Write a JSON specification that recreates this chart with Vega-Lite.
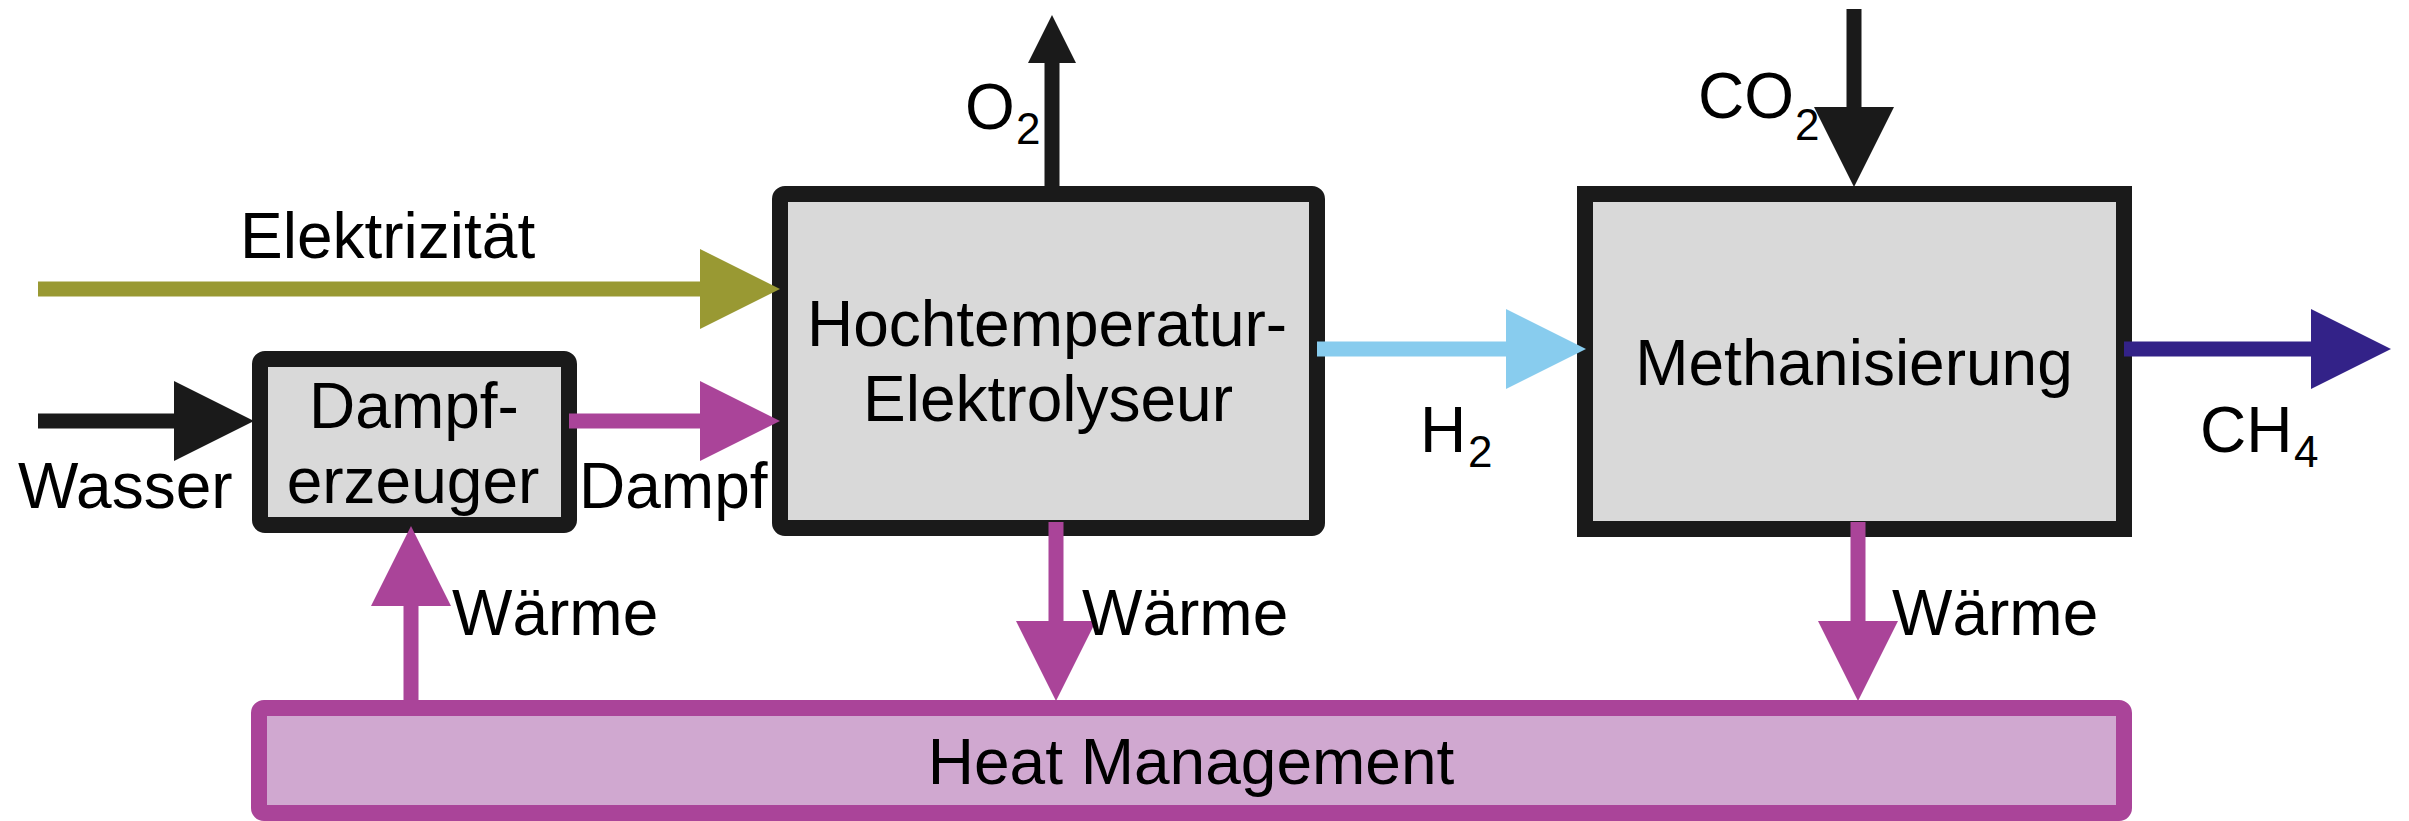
{
  "$schema": "https://vega.github.io/schema/vega-lite/v6.json",
  "width": 2409,
  "height": 821,
  "autosize": {"type": "fit", "contains": "padding"},
  "padding": 0,
  "background": "white",
  "config": {"view": {"stroke": null}},
  "datasets": {
    "boxes": [
      {"name": "Dampferzeuger", "kind": "process", "x1": 260, "x2": 569, "y1": 359, "y2": 525},
      {"name": "Hochtemperatur-Elektrolyseur", "kind": "process", "x1": 780, "x2": 1317, "y1": 194, "y2": 528},
      {"name": "Methanisierung", "kind": "process", "x1": 1585, "x2": 2124, "y1": 194, "y2": 529},
      {"name": "Heat Management", "kind": "heat", "x1": 259, "x2": 2124, "y1": 708, "y2": 813}
    ],
    "shafts": [
      {"stream": "Elektrizität", "x1": 38, "y1": 289, "x2": 702, "y2": 289},
      {"stream": "Wasser", "x1": 38, "y1": 421, "x2": 180, "y2": 421},
      {"stream": "Dampf", "x1": 569, "y1": 421, "x2": 702, "y2": 421},
      {"stream": "O2", "x1": 1052, "y1": 188, "x2": 1052, "y2": 60},
      {"stream": "H2", "x1": 1317, "y1": 349, "x2": 1508, "y2": 349},
      {"stream": "CO2", "x1": 1854, "y1": 9, "x2": 1854, "y2": 112},
      {"stream": "CH4", "x1": 2124, "y1": 349, "x2": 2313, "y2": 349},
      {"stream": "Wärme", "x1": 411, "y1": 708, "x2": 411, "y2": 604},
      {"stream": "Wärme", "x1": 1056, "y1": 522, "x2": 1056, "y2": 626},
      {"stream": "Wärme", "x1": 1858, "y1": 522, "x2": 1858, "y2": 626}
    ],
    "heads": [
      {"stream": "Elektrizität", "dir": "right", "x": 780, "y": 289},
      {"stream": "Wasser", "dir": "right", "x": 254, "y": 421},
      {"stream": "Dampf", "dir": "right", "x": 780, "y": 421},
      {"stream": "O2", "dir": "up", "x": 1052, "y": 15},
      {"stream": "H2", "dir": "right", "x": 1586, "y": 349},
      {"stream": "CO2", "dir": "down", "x": 1854, "y": 187},
      {"stream": "CH4", "dir": "right", "x": 2391, "y": 349},
      {"stream": "Wärme", "dir": "up", "x": 411, "y": 526},
      {"stream": "Wärme", "dir": "down", "x": 1056, "y": 701},
      {"stream": "Wärme", "dir": "down", "x": 1858, "y": 701}
    ],
    "labels": [
      {"text": "Elektrizität", "x": 240, "y": 258},
      {"text": "Wasser", "x": 18, "y": 508},
      {"text": "Dampf", "x": 579, "y": 508},
      {"text": "O", "x": 965, "y": 129},
      {"text": "H", "x": 1420, "y": 452},
      {"text": "CO", "x": 1698, "y": 118},
      {"text": "CH", "x": 2200, "y": 452},
      {"text": "Wärme", "x": 452, "y": 635},
      {"text": "Wärme", "x": 1082, "y": 635},
      {"text": "Wärme", "x": 1892, "y": 635}
    ],
    "subscripts": [
      {"text": "2", "x": 1016, "y": 144},
      {"text": "2", "x": 1468, "y": 467},
      {"text": "2", "x": 1795, "y": 140},
      {"text": "4", "x": 2294, "y": 467}
    ],
    "boxlabels": [
      {"text": "Dampf-", "x": 414, "y": 428},
      {"text": "erzeuger", "x": 413, "y": 503},
      {"text": "Hochtemperatur-", "x": 1047, "y": 346},
      {"text": "Elektrolyseur", "x": 1048, "y": 421},
      {"text": "Methanisierung", "x": 1854, "y": 385},
      {"text": "Heat Management", "x": 1191, "y": 784}
    ]
  },
  "layer": [
    {
      "data": {"name": "boxes"},
      "transform": [{"filter": "datum.name !== 'Methanisierung'"}],
      "mark": {"type": "rect", "strokeWidth": 16, "cornerRadius": 5},
      "encoding": {
        "x": {"field": "x1", "type": "quantitative", "scale": {"domain": [0, 2409], "nice": false, "zero": false}, "axis": null},
        "x2": {"field": "x2"},
        "y": {"field": "y1", "type": "quantitative", "scale": {"domain": [0, 821], "nice": false, "zero": false, "reverse": true}, "axis": null},
        "y2": {"field": "y2"},
        "fill": {"field": "kind", "type": "nominal", "scale": {"domain": ["process", "heat"], "range": ["#d9d9d9", "#d0a8d0"]}, "legend": null},
        "stroke": {"field": "kind", "type": "nominal", "scale": {"domain": ["process", "heat"], "range": ["#1a1a1a", "#aa4499"]}, "legend": null}
      }
    },
    {
      "data": {"name": "boxes"},
      "transform": [{"filter": "datum.name === 'Methanisierung'"}],
      "mark": {"type": "rect", "strokeWidth": 16, "cornerRadius": 0},
      "encoding": {
        "x": {"field": "x1", "type": "quantitative"},
        "x2": {"field": "x2"},
        "y": {"field": "y1", "type": "quantitative"},
        "y2": {"field": "y2"},
        "fill": {"field": "kind", "type": "nominal", "legend": null},
        "stroke": {"field": "kind", "type": "nominal", "legend": null}
      }
    },
    {
      "data": {"name": "shafts"},
      "mark": {"type": "rule", "strokeWidth": 15, "strokeCap": "butt"},
      "encoding": {
        "x": {"field": "x1", "type": "quantitative"},
        "x2": {"field": "x2"},
        "y": {"field": "y1", "type": "quantitative"},
        "y2": {"field": "y2"},
        "color": {"field": "stream", "type": "nominal", "scale": {"domain": ["Elektrizität", "Wasser", "Dampf", "O2", "H2", "CO2", "CH4", "Wärme"], "range": ["#999933", "#1a1a1a", "#aa4499", "#1a1a1a", "#88ccee", "#1a1a1a", "#332288", "#aa4499"]}, "legend": null}
      }
    },
    {
      "data": {"name": "heads"},
      "transform": [{"filter": "datum.stream !== 'O2'"}],
      "mark": {"type": "point", "filled": true, "opacity": 1, "size": 6400, "strokeWidth": 0},
      "encoding": {
        "x": {"field": "x", "type": "quantitative"},
        "y": {"field": "y", "type": "quantitative"},
        "shape": {"field": "dir", "type": "nominal", "scale": {"domain": ["right", "up", "down"], "range": ["M-2,-1L0,0L-2,1Z", "M-1,2L0,0L1,2Z", "M-1,-2L0,0L1,-2Z"]}, "legend": null},
        "color": {"field": "stream", "type": "nominal", "legend": null}
      }
    },
    {
      "data": {"name": "heads"},
      "transform": [{"filter": "datum.stream === 'O2'"}],
      "mark": {"type": "point", "filled": true, "opacity": 1, "size": 2304, "strokeWidth": 0},
      "encoding": {
        "x": {"field": "x", "type": "quantitative"},
        "y": {"field": "y", "type": "quantitative"},
        "shape": {"field": "dir", "type": "nominal", "legend": null},
        "color": {"field": "stream", "type": "nominal", "legend": null}
      }
    },
    {
      "data": {"name": "labels"},
      "mark": {"type": "text", "font": "Liberation Sans", "fontSize": 64, "align": "left", "baseline": "alphabetic", "color": "#000000"},
      "encoding": {
        "x": {"field": "x", "type": "quantitative"},
        "y": {"field": "y", "type": "quantitative"},
        "text": {"field": "text"}
      }
    },
    {
      "data": {"name": "subscripts"},
      "mark": {"type": "text", "font": "Liberation Sans", "fontSize": 44, "align": "left", "baseline": "alphabetic", "color": "#000000"},
      "encoding": {
        "x": {"field": "x", "type": "quantitative"},
        "y": {"field": "y", "type": "quantitative"},
        "text": {"field": "text"}
      }
    },
    {
      "data": {"name": "boxlabels"},
      "mark": {"type": "text", "font": "Liberation Sans", "fontSize": 64, "align": "center", "baseline": "alphabetic", "color": "#000000"},
      "encoding": {
        "x": {"field": "x", "type": "quantitative"},
        "y": {"field": "y", "type": "quantitative"},
        "text": {"field": "text"}
      }
    }
  ]
}
